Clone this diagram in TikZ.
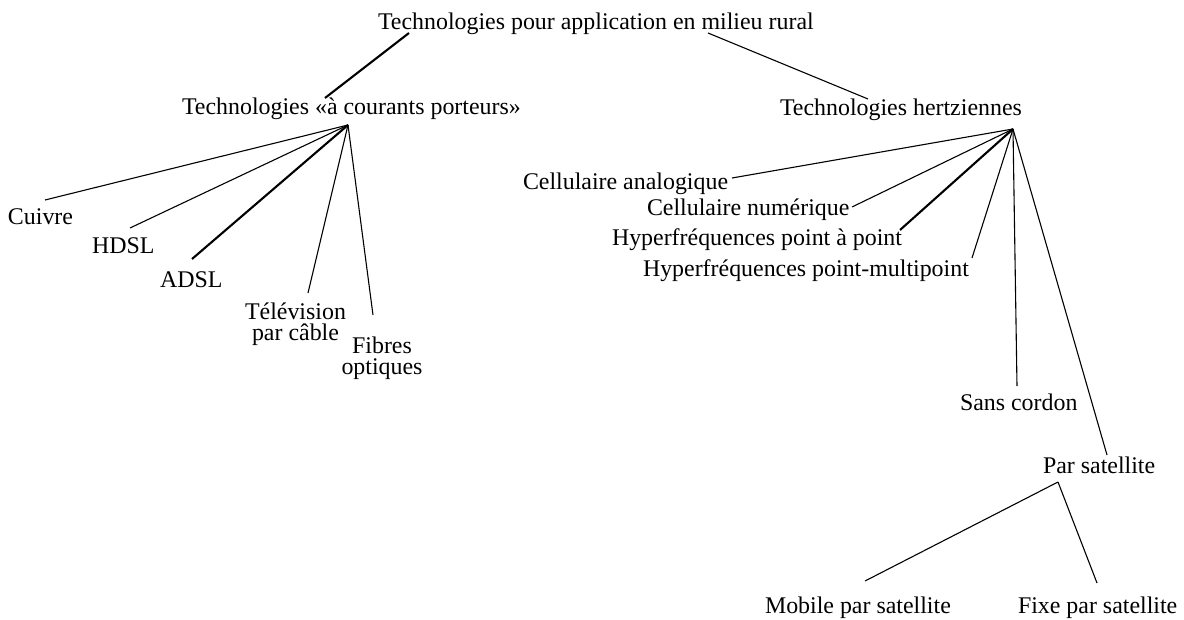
\documentclass[tikz,border=0pt]{standalone}
\usepackage{fontspec}
\setmainfont{Liberation Serif}
\begin{document}
\begin{tikzpicture}[x=1pt,y=-1pt,
  lbl/.style={anchor=base west, inner sep=0pt, outer sep=0pt, align=left,
    font=\fontsize{23.9}{21.5}\selectfont},
  lblc/.style={lbl, anchor=base, align=center},
  thin/.style={line width=1.1pt},
  thick/.style={line width=2.1pt}]
\useasboundingbox[fill=white] (0,0) rectangle (1184,620);
% nodes
\node[lbl] (root) at (378,30) {Technologies pour application en milieu rural};
\node[lbl] (midL) at (182,115) {Technologies «à courants porteurs»};
\node[lbl] (midR) at (780,116) {Technologies hertziennes};
\node[lbl] (cuivre) at (8,225) {Cuivre};
\node[lbl] (hdsl) at (92,254) {HDSL};
\node[lbl] (adsl) at (160,288) {ADSL};
\node[lblc] (tele) at (295.5,341) {Télévision\\par câble};
\node[lblc] (fibres) at (382,375) {Fibres\\optiques};
\node[lbl] (ca) at (523,190) {Cellulaire analogique};
\node[lbl] (cn) at (647,216) {Cellulaire numérique};
\node[lbl] (hpp) at (612,246) {Hyperfréquences point à point};
\node[lbl] (hpm) at (643,277) {Hyperfréquences point-multipoint};
\node[lbl] (sc) at (960,410) {Sans cordon};
\node[lbl] (ps) at (1043,473) {Par satellite};
\node[lbl] (mob) at (765,613) {Mobile par satellite};
\node[lbl] (fixe) at (1018,613) {Fixe par satellite};
% connector points
\coordinate (rootL) at (409,33);
\coordinate (rootR) at (708,33);
\coordinate (midLtop) at (325,98);
\coordinate (midRtop) at (868,99);
\coordinate (apexL) at (348,125);
\coordinate (apexR) at (1013,129);
\coordinate (cuivreE) at (45,200);
\coordinate (hdslE) at (130,228);
\coordinate (adslE) at (192,259);
\coordinate (teleE) at (308,293);
\coordinate (fibresE) at (373,315);
\coordinate (caE) at (732,178);
\coordinate (cnE) at (852,207);
\coordinate (hppE) at (900,230);
\coordinate (hpmE) at (972,258);
\coordinate (scE) at (1017,386);
\coordinate (psE) at (1107,455);
\coordinate (apexS) at (1058,482);
\coordinate (mobE) at (865,581);
\coordinate (fixeE) at (1097,583);
% connectors
\draw[thick] (rootL) -- (midLtop);
\draw[thin] (rootR) -- (midRtop);
\draw[thin] (apexL) -- (cuivreE);
\draw[thin] (apexL) -- (hdslE);
\draw[thick] (apexL) -- (adslE);
\draw[thin] (apexL) -- (teleE);
\draw[thin] (apexL) -- (fibresE);
\draw[thin] (apexR) -- (caE);
\draw[thin] (apexR) -- (cnE);
\draw[thick] (apexR) -- (hppE);
\draw[thin] (apexR) -- (hpmE);
\draw[thin] (apexR) -- (scE);
\draw[thin] (apexR) -- (psE);
\draw[thin] (apexS) -- (mobE);
\draw[thin] (apexS) -- (fixeE);
\end{tikzpicture}
\end{document}
